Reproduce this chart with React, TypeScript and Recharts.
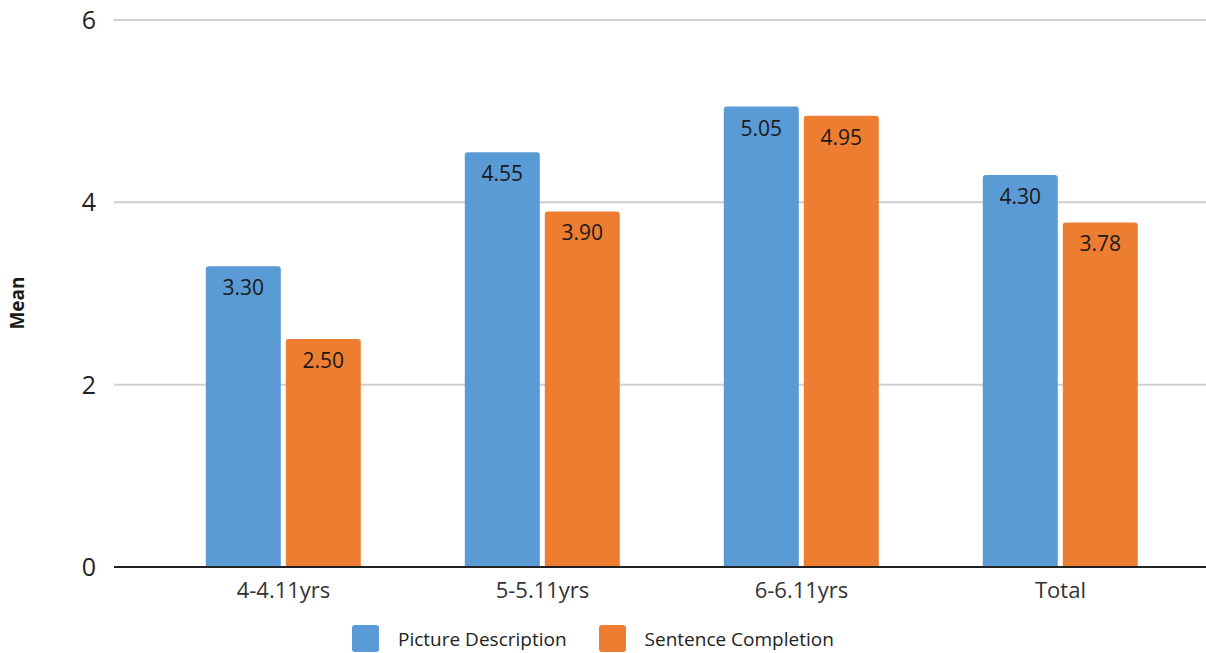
import { BarChart, Bar, XAxis, YAxis, CartesianGrid, Legend, LabelList } from 'recharts';

const categories = ['4-4.11yrs', '5-5.11yrs', '6-6.11yrs', 'Total'];
const pictureDescription = [3.3, 4.55, 5.05, 4.3];
const sentenceCompletion = [2.5, 3.9, 4.95, 3.78];
const yTicks = [0, 2, 4, 6];

const BLUE = '#5b9bd5';
const ORANGE = '#ed7d31';
const FONT = '"Open Sans", "Noto Sans", sans-serif';

const data = categories.map((name, i) => ({
  name,
  picture: pictureDescription[i],
  sentence: sentenceCompletion[i],
}));

const legendItems = [
  { label: 'Picture Description', color: BLUE },
  { label: 'Sentence Completion', color: ORANGE },
];

// legend is drawn by hand so the squares and gaps sit like the original
const renderLegend = () => (
  <div style={{ display: 'flex', gap: 32, paddingLeft: 352, fontFamily: FONT, fontSize: 19, color: '#222' }}>
    {legendItems.map((item) => (
      <div key={item.label} style={{ display: 'flex', alignItems: 'center' }}>
        <span style={{ display: 'inline-block', width: 27, height: 27, background: item.color, borderRadius: 3, marginRight: 19 }} />
        <span>{item.label}</span>
      </div>
    ))}
  </div>
);

const MeanLabel = () => (
  <text x={24} y={303} transform="rotate(-90 24 303)" textAnchor="middle" fontFamily={FONT} fontSize={19} fontWeight="bold" fill="#1a1a1a">
    Mean
  </text>
);

const valueLabel = { fontFamily: FONT, fontSize: 21, fill: '#1a1a1a' };

export default function App() {
  return (
    <div style={{ position: 'absolute', left: 0, top: 0 }}>
      <BarChart
        width={1206}
        height={653}
        data={data}
        margin={{ top: 20, right: 0, bottom: 46, left: 0 }}
        barCategoryGap="20%"
        barGap={5}
      >
        <CartesianGrid vertical={false} stroke="#cfcfcf" strokeWidth={2} />
        <XAxis
          dataKey="name"
          height={40}
          padding={{ left: 40, right: 16 }}
          tickLine={false}
          axisLine={{ stroke: '#222', strokeWidth: 2 }}
          tick={{ fontFamily: FONT, fontSize: 22, fill: '#333' }}
          tickMargin={9}
        />
        <YAxis
          width={114}
          domain={[0, 6]}
          ticks={yTicks}
          axisLine={false}
          tickLine={false}
          tickMargin={12}
          tick={{ fontFamily: FONT, fontSize: 25, fill: '#222' }}
          label={<MeanLabel />}
        />
        <Legend
          layout="horizontal"
          verticalAlign="middle"
          align="center"
          content={renderLegend}
          wrapperStyle={{ top: 625, left: 0, width: 1206 }}
        />
        <Bar dataKey="picture" fill={BLUE} radius={[3, 3, 0, 0]} isAnimationActive={false}>
          <LabelList dataKey="picture" position="insideTop" offset={14} formatter={(v: number) => v.toFixed(2)} style={valueLabel} />
        </Bar>
        <Bar dataKey="sentence" fill={ORANGE} radius={[3, 3, 0, 0]} isAnimationActive={false}>
          <LabelList dataKey="sentence" position="insideTop" offset={14} formatter={(v: number) => v.toFixed(2)} style={valueLabel} />
        </Bar>
      </BarChart>
    </div>
  );
}
